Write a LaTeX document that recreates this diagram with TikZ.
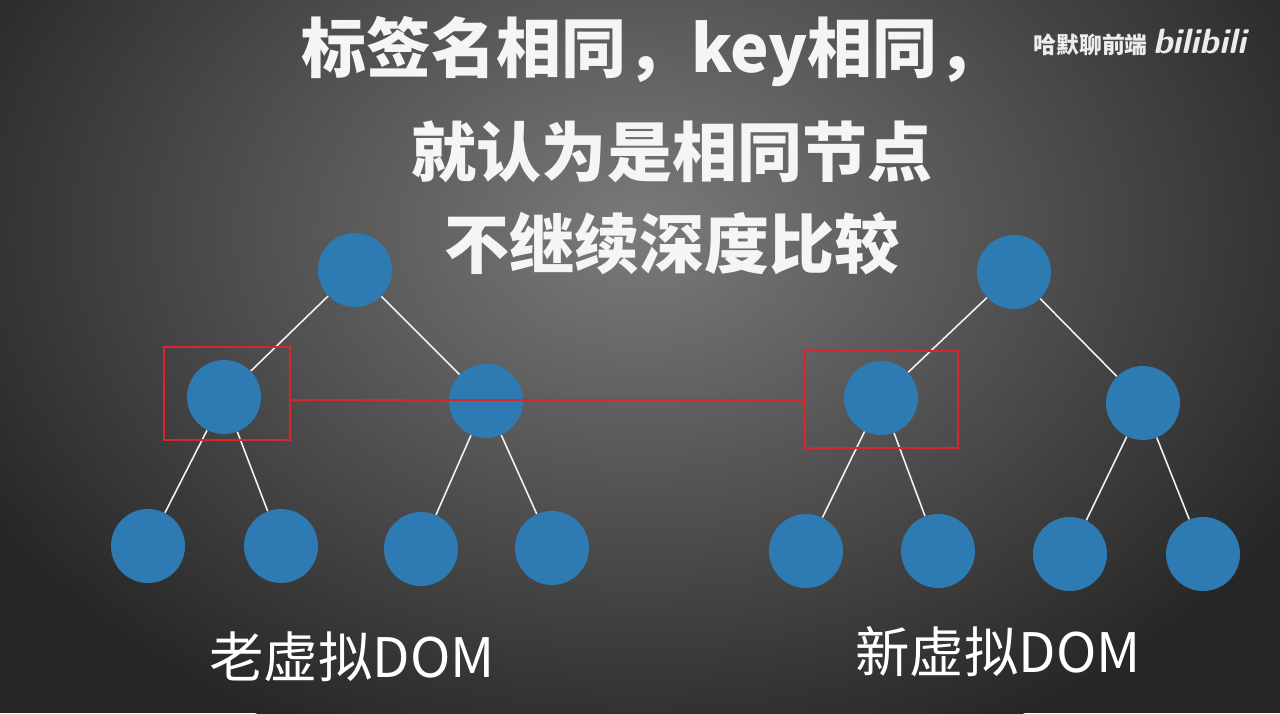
\documentclass[tikz,border=0pt]{standalone}
\usepackage{fontspec}
\newfontfamily\cjk{Noto Sans CJK SC}
\begin{document}
\begin{tikzpicture}[x=0.02cm,y=-0.02cm,
  nd/.style={circle,fill=treeblue,minimum size=1.48cm,inner sep=0pt},
  edge/.style={draw=white!90!gray,line width=0.9pt},
  hl/.style={draw=hlred,line width=1.6pt},
  title/.style={font=\cjk\bfseries\fontsize{37}{44}\selectfont,text=white!92!gray},
  lbl/.style={font=\cjk\fontsize{31}{36}\selectfont,text=white}]
\definecolor{treeblue}{HTML}{2E7BB4}
\definecolor{hlred}{HTML}{D8262B}
\useasboundingbox (0,0) rectangle (1280,713);
\fill[black!85] (0,0) rectangle (1280,713);
\begin{scope}
\clip (0,0) rectangle (1280,713);
\shade[inner color=black!52, outer color=black!85] (640,230) ellipse (760 and 560);
\end{scope}
\node[title] (t1) at (652,52) {标签名相同，key相同，};
\node[title] (t2) at (672,152) {就认为是相同节点};
\node[title] (t3) at (672,244) {不继续深度比较};
\node[font=\cjk\bfseries\fontsize{13}{15}\selectfont,text=white!85!gray] (wm) at (1140,42) {哈默聊前端 \sffamily\bfseries\itshape\fontsize{20}{20}\selectfont bilibili};
% old tree
\node[nd] (a) at (355,270) {};
\node[nd] (b) at (224,397) {};
\node[nd] (c) at (486,401) {};
\node[nd] (d) at (148,546) {};
\node[nd] (e) at (281,546) {};
\node[nd] (f) at (421,549) {};
\node[nd] (g) at (552,548) {};
% new tree
\node[nd] (A) at (1014,272) {};
\node[nd] (B) at (881,398) {};
\node[nd] (C) at (1143,403) {};
\node[nd] (D) at (806,551) {};
\node[nd] (E) at (938,551) {};
\node[nd] (F) at (1070,554) {};
\node[nd] (G) at (1203,554) {};
\foreach \p/\q in {a/b,a/c,b/d,b/e,c/f,c/g,A/B,A/C,B/D,B/E,C/F,C/G}
  \draw[edge] (\p) -- (\q);
\node[hl,minimum width=2.52cm,minimum height=1.86cm] (ob) at (227,393.5) {};
\node[hl,minimum width=3.06cm,minimum height=1.94cm] (nb) at (881.5,399.5) {};
\coordinate (s) at (290,400);
\coordinate (t) at (805,400);
\draw[hl] (s) -- (t);
\node[lbl] (l1) at (352,657) {老虚拟DOM};
\node[lbl] (l2) at (998,652) {新虚拟DOM};
\end{tikzpicture}
\end{document}
